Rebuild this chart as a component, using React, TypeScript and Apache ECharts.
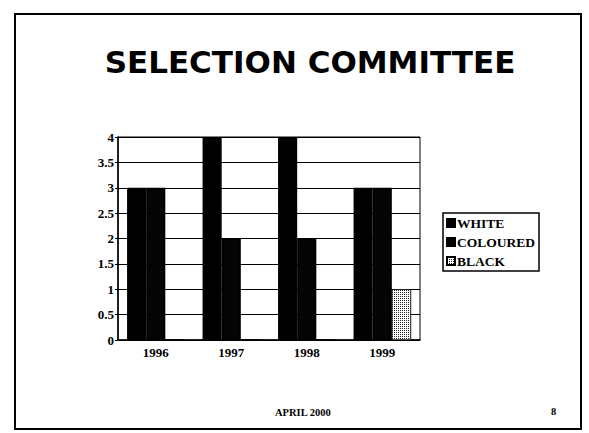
import React, { useEffect, useRef } from "react";
import * as echarts from "echarts";

const years = ["1996", "1997", "1998", "1999"];
const white = [3, 4, 4, 3];
const coloured = [3, 2, 2, 3];
const black = [0, 0, 0, 1];
const seriesNames = ["WHITE", "COLOURED", "BLACK"];
const titleText = "SELECTION COMMITTEE";
const footerText = "APRIL 2000";
const pageNumber = "8";

export default function App() {
  const ref = useRef<HTMLDivElement>(null);
  useEffect(() => {
    if (!ref.current) return;
    const chart = echarts.init(ref.current, null, { renderer: "svg" });
    const serif = "'Liberation Serif', 'Times New Roman', serif";
    chart.setOption({
      animation: false,
      backgroundColor: "#fff",
      title: {
        text: titleText,
        left: 305,
        top: 41,
        textAlign: "center",
        textStyle: {
          fontFamily: "'DejaVu Sans', Verdana, sans-serif",
          fontWeight: "bold",
          fontSize: 31,
          color: "#000",
        },
      },
      legend: {
        orient: "vertical",
        left: 443,
        top: 213,
        data: seriesNames,
        icon: "rect",
        itemWidth: 8,
        itemHeight: 8,
        itemGap: 5,
        padding: [3, 4, 3, 3],
        borderColor: "#000",
        borderWidth: 1.5,
        textStyle: {
          fontFamily: serif,
          fontWeight: "bold",
          fontSize: 13.5,
          color: "#000",
          padding: [0, 0, 0, -3],
        },
      },
      grid: {
        left: 118,
        right: 169,
        top: 137,
        bottom: 93,
        show: true,
        borderColor: "#000",
        borderWidth: 1,
        backgroundColor: "#fff",
      },
      xAxis: {
        type: "category",
        data: years,
        axisLine: { lineStyle: { color: "#000", width: 1.5 } },
        axisTick: { show: false },
        axisLabel: {
          fontFamily: serif,
          fontWeight: "bold",
          fontSize: 13,
          color: "#000",
          margin: 6,
        },
      },
      yAxis: {
        type: "value",
        min: 0,
        max: 4,
        interval: 0.5,
        axisLine: { show: true, lineStyle: { color: "#000", width: 1.5 } },
        axisTick: { show: true, length: 3, lineStyle: { color: "#000" } },
        splitLine: { lineStyle: { color: "#000", width: 1 } },
        axisLabel: {
          fontFamily: serif,
          fontWeight: "bold",
          fontSize: 13,
          color: "#000",
          margin: 4,
        },
      },
      series: [
        {
          name: seriesNames[0],
          type: "bar",
          data: white,
          barGap: "0%",
          barCategoryGap: "24%",
          itemStyle: { color: "#000", borderColor: "#000", borderWidth: 2 },
        },
        {
          name: seriesNames[1],
          type: "bar",
          data: coloured,
          itemStyle: { color: "#050505", borderColor: "#000", borderWidth: 2 },
        },
        {
          name: seriesNames[2],
          type: "bar",
          data: black,
          itemStyle: {
            color: "#fff",
            borderColor: "#000",
            borderWidth: 0.5,
            decal: {
              symbol: "rect",
              symbolSize: 1,
              color: "#222",
              dashArrayX: [1, 1],
              dashArrayY: [1, 1],
              rotation: 0,
            },
          },
        },
      ],
      graphic: [
        {
          type: "rect",
          shape: { x: 15, y: 14, width: 566, height: 415 },
          style: { fill: "none", stroke: "#000", lineWidth: 2 },
          silent: true,
          z: -1,
        },
        {
          type: "text",
          left: 275,
          top: 407,
          style: {
            text: footerText,
            font: "bold 10.5px " + serif,
            fill: "#000",
          },
        },
        {
          type: "text",
          left: 551,
          top: 406,
          style: {
            text: pageNumber,
            font: "bold 10.5px " + serif,
            fill: "#000",
          },
        },
      ],
    });
    return () => chart.dispose();
  }, []);
  return (
    <div
      ref={ref}
      style={{ position: "absolute", left: 0, top: 0, width: 589, height: 433 }}
    />
  );
}
